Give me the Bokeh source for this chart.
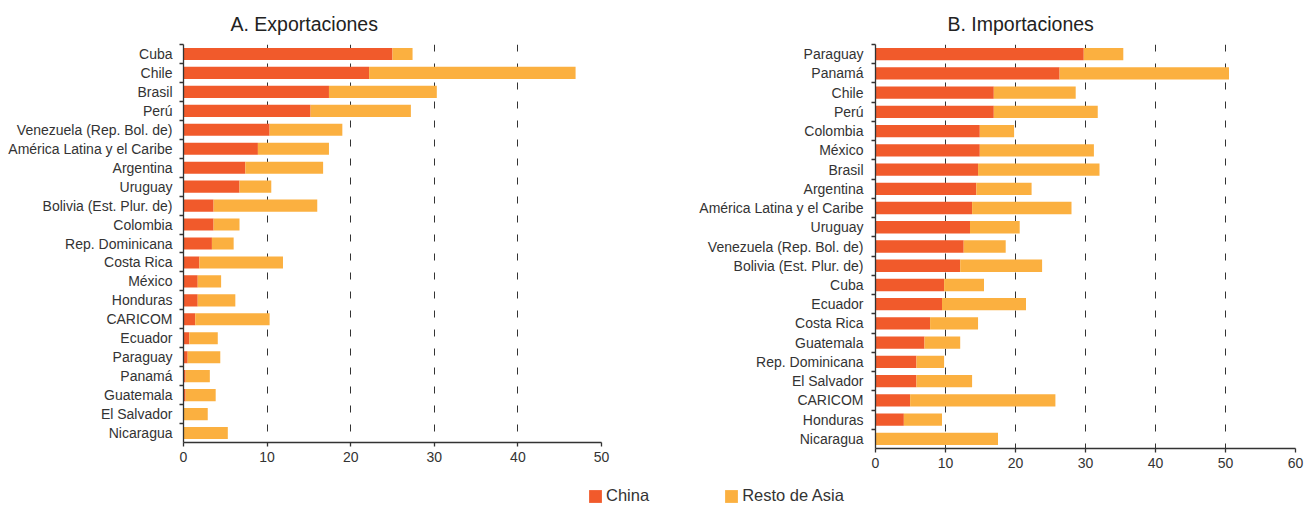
from bokeh.plotting import figure
from bokeh.models import Range1d, FixedTicker, ColumnDataSource, Legend, LegendItem
from bokeh.layouts import column, row
from bokeh.embed import file_html
from bokeh.resources import INLINE

FONT = "Liberation Sans"
CHINA_COLOR = "#F15A2B"
RESTO_COLOR = "#FBB040"
TEXT_COLOR = "#333333"
AXIS_COLOR = "#333333"

# ---------------- data ----------------
series_names = ["China", "Resto de Asia"]

exp_title = "A. Exportaciones"
exp_countries = ["Cuba", "Chile", "Brasil", "Perú", "Venezuela (Rep. Bol. de)",
                 "América Latina y el Caribe", "Argentina", "Uruguay",
                 "Bolivia (Est. Plur. de)", "Colombia", "Rep. Dominicana",
                 "Costa Rica", "México", "Honduras", "CARICOM", "Ecuador",
                 "Paraguay", "Panamá", "Guatemala", "El Salvador", "Nicaragua"]
exp_china = [25.0, 22.2, 17.4, 15.2, 10.3, 8.9, 7.4, 6.7, 3.6, 3.6, 3.4,
             1.9, 1.7, 1.7, 1.4, 0.7, 0.5, 0.25, 0.25, 0.05, 0.0]
exp_resto = [2.4, 24.7, 12.9, 12.0, 8.7, 8.5, 9.3, 3.8, 12.4, 3.1, 2.6,
             10.0, 2.8, 4.5, 8.9, 3.4, 3.9, 2.9, 3.6, 2.85, 5.3]
exp_xticks = [0, 10, 20, 30, 40, 50]

imp_title = "B. Importaciones"
imp_countries = ["Paraguay", "Panamá", "Chile", "Perú", "Colombia", "México",
                 "Brasil", "Argentina", "América Latina y el Caribe", "Uruguay",
                 "Venezuela (Rep. Bol. de)", "Bolivia (Est. Plur. de)", "Cuba",
                 "Ecuador", "Costa Rica", "Guatemala", "Rep. Dominicana",
                 "El Salvador", "CARICOM", "Honduras", "Nicaragua"]
imp_china = [29.75, 26.3, 16.9, 16.9, 14.9, 14.9, 14.65, 14.4, 13.8, 13.5,
             12.6, 12.1, 9.8, 9.5, 7.8, 7.0, 5.85, 5.85, 4.95, 4.05, 0.0]
imp_resto = [5.65, 24.2, 11.7, 14.85, 4.9, 16.3, 17.35, 7.9, 14.2, 7.1,
             6.0, 11.7, 5.7, 12.0, 6.85, 5.1, 3.95, 7.95, 20.75, 5.45, 17.5]
imp_xticks = [0, 10, 20, 30, 40, 50, 60]


def make_panel(title, cats, china, resto, xticks, *, frame_width, frame_height,
               border_left, border_right, border_top, border_bottom,
               title_offset, label_standoff):
    n = len(cats)
    src = ColumnDataSource(dict(y=list(range(n)), china=china, resto=resto))
    p = figure(frame_width=frame_width, frame_height=frame_height,
               x_range=Range1d(xticks[0], xticks[-1]),
               y_range=Range1d(n - 0.5, -0.5),
               output_backend="svg", toolbar_location=None,
               min_border_left=border_left, min_border_right=border_right,
               min_border_top=border_top, min_border_bottom=border_bottom,
               title=title)
    p.hbar_stack(["china", "resto"], y="y", height=0.64,
                 color=[CHINA_COLOR, RESTO_COLOR], line_color=None, source=src)

    p.outline_line_color = None
    p.background_fill_color = "white"
    p.border_fill_color = "white"

    p.title.align = "left"
    p.title.offset = title_offset
    p.title.vertical_align = "top"
    p.title.standoff = 16
    p.title.text_font = FONT
    p.title.text_font_size = "19.5px"
    p.title.text_font_style = "normal"
    p.title.text_color = "#222222"

    # y axis: labels at band centres, ticks at band boundaries
    yax = p.yaxis[0]
    yax.ticker = FixedTicker(ticks=list(range(n)),
                             minor_ticks=[i - 0.5 for i in range(n)])
    yax.major_label_overrides = {i: c for i, c in enumerate(cats)}
    yax.major_tick_out = 0
    yax.major_tick_in = 0
    yax.minor_tick_out = 4
    yax.minor_tick_in = 0
    yax.minor_tick_line_color = AXIS_COLOR
    yax.minor_tick_line_width = 1.3
    yax.major_label_standoff = label_standoff

    xax = p.xaxis[0]
    xax.ticker = FixedTicker(ticks=xticks, minor_ticks=[])
    xax.major_tick_out = 4
    xax.major_tick_in = 0
    xax.major_tick_line_color = AXIS_COLOR
    xax.major_tick_line_width = 1.3
    xax.major_label_standoff = 5

    for ax in (xax, yax):
        ax.axis_line_color = AXIS_COLOR
        ax.axis_line_width = 1.3
        ax.major_label_text_font = FONT
        ax.major_label_text_font_size = "14px"
        ax.major_label_text_color = TEXT_COLOR

    p.ygrid.visible = False
    p.xgrid.ticker = FixedTicker(ticks=xticks[1:])
    p.xgrid.grid_line_color = "#333333"
    p.xgrid.grid_line_width = 1
    p.xgrid.grid_line_dash = "7 12"
    return p, src


p1, src1 = make_panel(exp_title, exp_countries, exp_china, exp_resto, exp_xticks,
                      frame_width=418, frame_height=398, border_left=183, border_right=84,
                      border_top=42, border_bottom=30, title_offset=47, label_standoff=7)
p2, src2 = make_panel(imp_title, imp_countries, imp_china, imp_resto, imp_xticks,
                      frame_width=420, frame_height=404, border_left=190, border_right=9,
                      border_top=44, border_bottom=30, title_offset=72, label_standoff=8)

# ---------------- legend ----------------
# proxy bars (same data, drawn outside the visible range) carry the legend glyphs
leg = figure(width=1304, height=27, output_backend="svg", toolbar_location=None,
             min_border=0, x_axis_location=None, y_axis_location=None,
             x_range=Range1d(-2, -1), y_range=Range1d(-0.5, 0.5))
leg.outline_line_color = None
leg.grid.visible = False
leg_src = ColumnDataSource(dict(y=list(range(len(exp_countries))),
                                china=exp_china, resto=exp_resto))
r_china, r_resto = leg.hbar_stack(["china", "resto"], y="y", height=0.64,
                                  color=[CHINA_COLOR, RESTO_COLOR], line_color=None,
                                  source=leg_src)
legend = Legend(items=[LegendItem(label=series_names[0], renderers=[r_china]),
                       LegendItem(label=series_names[1], renderers=[r_resto])],
                orientation="horizontal", location=(587, 0),
                padding=0, margin=0, spacing=74, label_standoff=3,
                glyph_width=16, glyph_height=16, label_height=16,
                border_line_color=None, background_fill_alpha=0,
                label_text_font=FONT, label_text_font_size="16.5px",
                label_text_color=TEXT_COLOR)
leg.add_layout(legend, "center")

layout = column(row(p1, p2), leg)
open("out.html", "w").write(file_html(layout, INLINE))
